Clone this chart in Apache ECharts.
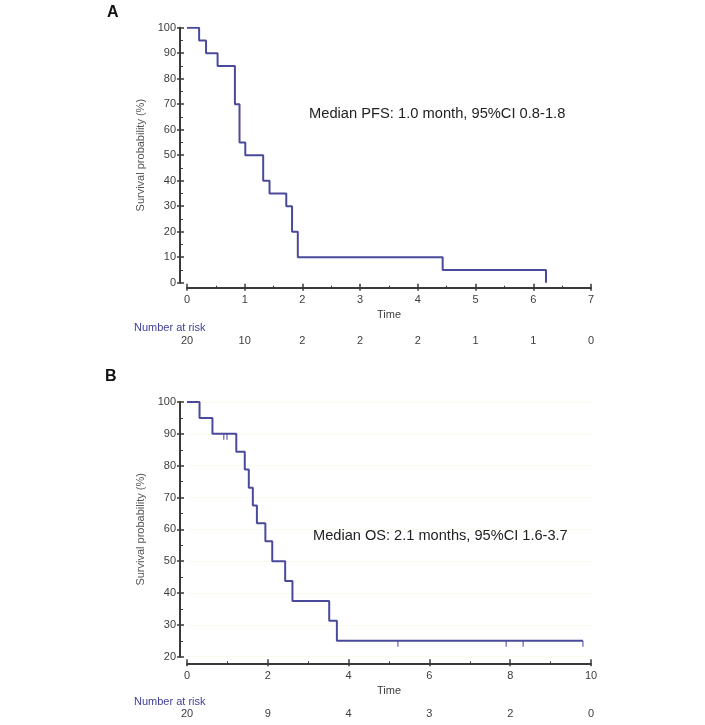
<!DOCTYPE html>
<html><head><meta charset="utf-8">
<script src="https://cdn.jsdelivr.net/npm/echarts@6/dist/echarts.min.js"></script>
<style>html,body{margin:0;padding:0;background:#fff}#c{width:705px;height:725px}</style>
</head><body><div id="c"></div>
<script>
// Panel A: PFS
const timesA = [0, 0.21, 0.33, 0.53, 0.83, 0.91, 1.01, 1.32, 1.43, 1.72, 1.82, 1.92, 4.43, 6.22];
const survA  = [100, 95, 90, 85, 70, 55, 50, 40, 35, 30, 20, 10, 5, 0];
const riskTicksA = [0, 1, 2, 3, 4, 5, 6, 7];
const riskA = [20, 10, 2, 2, 2, 1, 1, 0];
// Panel B: OS
const timesB = [0, 0.31, 0.63, 1.22, 1.43, 1.53, 1.63, 1.73, 1.94, 2.11, 2.43, 2.61, 3.52, 3.71, 9.8];
const survB  = [100, 95, 90, 84.4, 78.8, 73.1, 67.5, 61.9, 56.3, 50, 43.8, 37.5, 31.3, 25, 25];
const censorTimesB = [0.91, 0.99, 5.22, 7.9, 8.32, 9.8];
const censorSurvB  = [90, 90, 25, 25, 25, 25];
const riskTicksB = [0, 2, 4, 6, 8, 10];
const riskB = [20, 9, 4, 3, 2, 0];
const textA = 'Median PFS: 1.0 month, 95%CI 0.8-1.8';
const textB = 'Median OS: 2.1 months, 95%CI 1.6-3.7';

const FONT = 'Liberation Sans, Arial, sans-serif';
const LINE = '#4a4a9c';
const AX = '#3a3a3a';
const LBL = '#3d3d3d';

function pairs(xs, ys){ return xs.map((x,i)=>[x, ys[i]]); }

function mainX(grid, max, interval, offset){
  return {type:'value', gridIndex:grid, position:'bottom', min:0, max:max, interval:interval, offset:offset,
    name:'Time', nameLocation:'middle', nameGap:22,
    nameTextStyle:{fontFamily:FONT, fontSize:11, color:LBL},
    axisLine:{show:true, onZero:false, lineStyle:{color:AX, width:2}},
    axisTick:{show:true, inside:true, length:4, lineStyle:{color:AX, width:1.5}},
    minorTick:{show:true, splitNumber:2, length:2, lineStyle:{color:AX, width:1}},
    axisLabel:{fontFamily:FONT, fontSize:11, color:LBL, margin:7},
    splitLine:{show:false}};
}
function outX(grid, max, interval, offset){
  return {type:'value', gridIndex:grid, position:'bottom', min:0, max:max, interval:interval, offset:offset,
    axisLine:{show:false, onZero:false}, axisTick:{show:true, inside:false, length:3, lineStyle:{color:AX, width:1.5}},
    axisLabel:{show:false}, splitLine:{show:false}};
}
function riskX(grid, max, interval, offset, ticks, risk){
  return {type:'value', gridIndex:grid, min:0, max:max, interval:interval, offset:offset, position:'bottom',
    axisLine:{show:false, onZero:false}, axisTick:{show:false}, splitLine:{show:false},
    axisLabel:{fontFamily:FONT, fontSize:11, color:LBL, margin:8,
      formatter:v=>{const i=ticks.indexOf(v); return i>=0? String(risk[i]) : '';}}};
}
function mainY(grid, min, split){
  return {type:'value', gridIndex:grid, position:'left', min:min, max:100, interval:10, offset:7,
    name:'Survival probability (%)', nameLocation:'middle', nameGap:25, nameRotate:90,
    nameTextStyle:{fontFamily:FONT, fontSize:11, color:'#555'},
    axisLine:{show:true, onZero:false, lineStyle:{color:AX, width:2}},
    axisTick:{show:true, inside:true, length:4, lineStyle:{color:AX, width:1.5}},
    minorTick:{show:true, splitNumber:2, length:3, lineStyle:{color:AX, width:1}},
    axisLabel:{fontFamily:FONT, fontSize:11, color:LBL, margin:4},
    splitLine:{show:split, lineStyle:{color:'#fcfaec', width:1}}};
}
function outY(grid, min){
  return {type:'value', gridIndex:grid, position:'left', min:min, max:100, interval:10, offset:7,
    axisLine:{show:false, onZero:false}, axisTick:{show:true, inside:false, length:3, lineStyle:{color:AX, width:1.5}},
    axisLabel:{show:false}, splitLine:{show:false}};
}

const option = {
  animation:false,
  backgroundColor:'#fff',
  title:[
    {text:'A', left:107, top:5, padding:0, textStyle:{fontFamily:FONT, fontSize:16, fontWeight:'bold', color:'#111'}},
    {text:'B', left:105, top:369, padding:0, textStyle:{fontFamily:FONT, fontSize:16, fontWeight:'bold', color:'#111'}},
    {text:textA, left:309, top:106, padding:0, textStyle:{fontFamily:FONT, fontSize:14.7, fontWeight:'normal', color:'#222'}},
    {text:textB, left:313, top:528, padding:0, textStyle:{fontFamily:FONT, fontSize:14.6, fontWeight:'normal', color:'#222'}},
    {text:'Number at risk', left:134, top:322, padding:0, textStyle:{fontFamily:FONT, fontSize:11, fontWeight:'normal', color:'#3f3f99'}},
    {text:'Number at risk', left:134, top:696, padding:0, textStyle:{fontFamily:FONT, fontSize:11, fontWeight:'normal', color:'#3f3f99'}}
  ],
  grid:[
    {left:187, right:114, top:27.7, height:255},
    {left:187, right:114, top:402, height:254.7}
  ],
  xAxis:[
    mainX(0, 7, 1, 5), outX(0, 7, 1, 5), riskX(0, 7, 1, 45, riskTicksA, riskA),
    mainX(1, 10, 2, 6.6), outX(1, 10, 2, 6.6), riskX(1, 10, 2, 44, riskTicksB, riskB)
  ],
  yAxis:[
    mainY(0, 0, false), outY(0, 0),
    mainY(1, 20, true), outY(1, 20)
  ],
  series:[
    {type:'line', xAxisIndex:0, yAxisIndex:0, step:'end', symbol:'none', data:pairs(timesA, survA),
      lineStyle:{color:LINE, width:2}, z:5},
    {type:'line', xAxisIndex:3, yAxisIndex:2, step:'end', symbol:'none', data:pairs(timesB, survB),
      lineStyle:{color:LINE, width:2}, z:5},
    {type:'scatter', xAxisIndex:3, yAxisIndex:2, data:pairs(censorTimesB, censorSurvB),
      symbol:'rect', symbolSize:[1.3, 6], symbolOffset:[0, 3], itemStyle:{color:LINE}, z:6}
  ]
};
const chart = echarts.init(document.getElementById('c'), null, {renderer:'canvas'});
chart.setOption(option);
</script>
</body></html>
